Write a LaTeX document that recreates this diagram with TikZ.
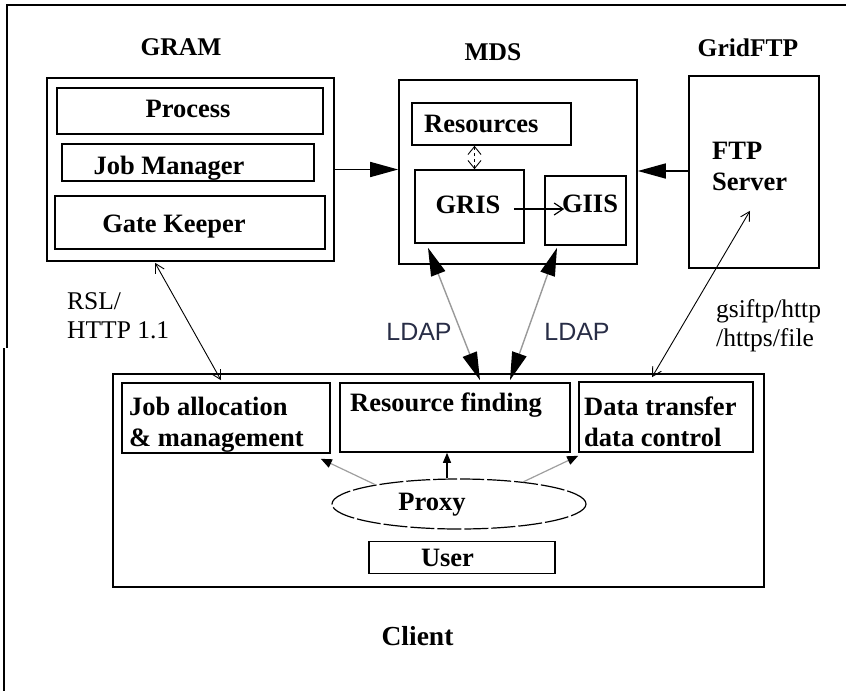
\documentclass[tikz,border=0pt]{standalone}
\usepackage{fontspec}
\setmainfont{Liberation Serif}
\newfontfamily\lsans{Liberation Sans}
\usetikzlibrary{arrows.meta,shapes.geometric}

\tikzset{
  box/.style={draw, line width=1.6pt, rectangle, inner sep=0pt},
  lbl/.style={inner sep=0pt, font=\fontsize{26.5}{31}\selectfont\bfseries, align=left},
  title/.style={inner sep=0pt, font=\fontsize{25.5}{28}\selectfont\bfseries},
  note/.style={inner sep=0pt, font=\fontsize{25.5}{29}\selectfont, align=left},
  ldap/.style={inner sep=0pt, font=\lsans\fontsize{25}{28}\selectfont, text={rgb,255:red,40;green,45;blue,70}},
  bigarrow/.style={line width=1.6pt, -{Triangle[length=28pt,width=15pt,color=black]}},
  ldaparrow/.style={line width=1.4pt, draw=gray!80, {Triangle[length=28pt,width=15pt,color=black]}-{Triangle[length=28pt,width=15pt,color=black]}},
  thinboth/.style={line width=0.9pt, {Straight Barb[length=9pt,width=10pt]}-{Straight Barb[length=9pt,width=10pt]}},
  proxyarrow/.style={line width=1.2pt, draw=gray!75, -{Triangle[length=11pt,width=9pt,color=black]}},
}

\begin{document}
\begin{tikzpicture}[x=1pt,y=-1pt]
\useasboundingbox (0,0) rectangle (846,691);

% outer frame (top and left edges)
\draw[line width=1.8pt] (846,5) -- (7,5) -- (7,348);
\draw[line width=1.8pt] (4,348) -- (4,691);

% ---- GRAM ----
\node[title] (gramT) at (181,47) {GRAM};
\node[box, minimum width=287pt, minimum height=183pt] (gram) at (190.5,169.5) {};
\node[box, minimum width=266pt, minimum height=46pt] (process) at (190,111) {};
\node[box, minimum width=252pt, minimum height=37pt] (jobmgr) at (188,162.5) {};
\node[box, minimum width=270pt, minimum height=53pt] (gatekeeper) at (190,222.5) {};
\node[lbl] (processT) at (188,109) {Process};
\node[lbl] (jobmgrT) at (169,168) {Job Manager};
\node[lbl] (gatekeeperT) at (174,227) {Gate Keeper};

% ---- MDS ----
\node[title] (mdsT) at (493,52) {MDS};
\node[box, minimum width=238pt, minimum height=184pt] (mds) at (518,172) {};
\node[box, minimum width=159pt, minimum height=42pt] (resources) at (491.5,124) {};
\node[box, minimum width=109pt, minimum height=73pt] (gris) at (469.5,206.5) {};
\node[box, minimum width=81pt, minimum height=69pt] (giis) at (585.5,210.5) {};
\node[lbl, anchor=west] (resourcesT) at (424,124) {Resources};
\node[lbl] (grisT) at (468,205) {GRIS};
\node[lbl] (giisT) at (590,204) {GIIS};

% ---- GridFTP ----
\node[title] (gridftpT) at (748,48) {GridFTP};
\node[box, minimum width=130pt, minimum height=192pt] (gridftp) at (754,172) {};
\node[lbl, anchor=west] (ftpT) at (712,166) {FTP\\Server};

% ---- Client ----
\node[box, line width=1.8pt, minimum width=651pt, minimum height=213pt] (client) at (438.5,480.5) {};
\node[box, minimum width=208pt, minimum height=70pt] (joballoc) at (226,418) {};
\node[box, minimum width=230pt, minimum height=69pt] (resfind) at (455,417.5) {};
\node[box, minimum width=174pt, minimum height=70pt] (datatr) at (666,417) {};
\node[box, minimum width=186pt, minimum height=32pt] (user) at (462,557.5) {};
\node[draw, ellipse, line width=1.2pt, dash pattern=on 24pt off 3pt,
      minimum width=254pt, minimum height=50pt, inner sep=0pt] (proxy) at (459,504) {};
\node[lbl, anchor=west] (joballocT) at (129,425) {Job allocation\\\& management};
\node[lbl] (resfindT) at (446,405) {Resource finding};
\node[lbl, anchor=west] (datatrT) at (584,422) {Data transfer\\data control};
\node[lbl] (proxyT) at (432,505) {Proxy};
\node[lbl] (userT) at (447.5,558) {User};
\node[lbl, font=\fontsize{27.5}{30}\selectfont\bfseries] (clientT) at (417.5,636) {Client};

% ---- protocol labels ----
\node[note, anchor=west] (rslT) at (67,316) {RSL/\\HTTP 1.1};
\node[note, anchor=west] (gsiT) at (716,326) {gsiftp/http\\/https/file};
\node[ldap] (ldap1) at (419,332) {LDAP};
\node[ldap] (ldap2) at (577,332) {LDAP};

% ---- connectors ----
\draw[bigarrow] (gram.east) -- (gram.east -| mds.west);
\draw[bigarrow] ([yshift=1pt]gridftp.west) -- ([yshift=1pt]gridftp.west -| mds.east);
\draw[line width=0.9pt, dashed, {Straight Barb[length=8pt,width=13pt]}-{Straight Barb[length=8pt,width=13pt]}]
  ([xshift=5pt]gris.north) -- ([xshift=5pt]gris.north |- resources.south);
\draw[line width=1.2pt, -{Straight Barb[length=9pt,width=12pt]}]
  ([xshift=-11pt,yshift=-2.5pt]gris.east) -- ([xshift=20pt,yshift=1.5pt]giis.west);

\draw[ldaparrow] ([xshift=-41.5pt,yshift=-4pt]gris.south) -- ([xshift=25pt,yshift=2pt]resfind.north);
\draw[ldaparrow] ([xshift=-28.5pt,yshift=-2pt]giis.south) -- ([xshift=55pt,yshift=2pt]resfind.north);

\draw[thinboth] ([xshift=-35.5pt,yshift=-1pt]gram.south) -- ([xshift=-5pt,yshift=2pt]joballoc.north);
\draw[thinboth] ([xshift=-4pt,yshift=58pt]gridftp.south) -- ([xshift=-14pt,yshift=4pt]datatr.north);

\draw[proxyarrow] (proxy.167) -- ([xshift=-10pt,yshift=-5pt]joballoc.south east);
\draw[line width=1.2pt, -{Triangle[length=10pt,width=8pt]}] ([xshift=-12pt]proxy.north) -- ([xshift=-8pt]resfind.south);
\draw[proxyarrow] (proxy.19) -- ([yshift=-3pt]datatr.south west);
\end{tikzpicture}
\end{document}
